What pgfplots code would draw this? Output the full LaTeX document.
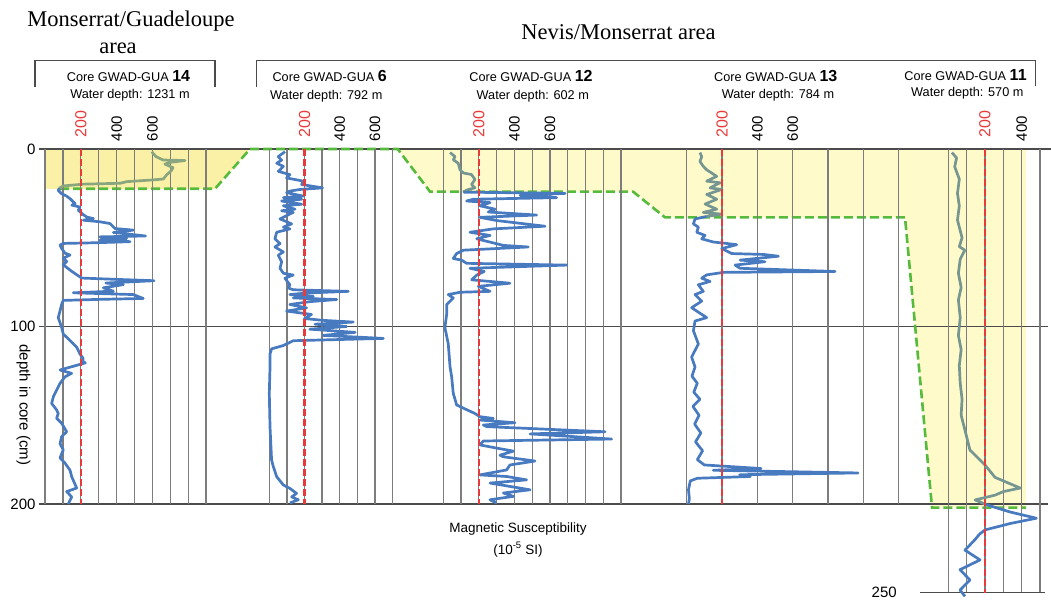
\documentclass[border=0pt]{standalone}
\usepackage{fontspec}
\setmainfont{Liberation Sans}
\newfontfamily\titlefont{Liberation Serif}
\usepackage{pgfplots}
\pgfplotsset{compat=1.18}
\definecolor{cblue}{RGB}{72,122,192}
\definecolor{cgray}{RGB}{118,150,146}
\definecolor{cgrayA}{RGB}{138,166,126}
\definecolor{yelA}{RGB}{250,241,166}
\definecolor{yelB}{RGB}{255,250,202}
\definecolor{cgreen}{RGB}{86,186,60}
\definecolor{cred}{RGB}{232,58,58}
\definecolor{cgrid}{RGB}{125,125,125}
\definecolor{cline}{RGB}{75,75,75}
\pgfplotsset{
  panel/.style={scale only axis, anchor=north west, height=355bp, ymin=0, ymax=200,
    y dir=reverse, axis line style={draw=none}, ytick=\empty, xticklabels={},
    major tick length=0pt, xmajorgrids, major grid style={cgrid, line width=1.3bp}, clip=false},
  bl/.style={cblue, line width=2.7bp, line join=round},
  gl/.style={cgray, line width=2.7bp, line join=round},
  rl/.style={cred, line width=2.3bp, dash pattern=on 7bp off 3bp},
}
\tikzset{
  toplab/.style={rotate=90, anchor=west, inner sep=0pt, font=\fontsize{15bp}{18bp}\selectfont},
  toplabR/.style={rotate=90, anchor=west, inner sep=0pt, text=cred, font=\fontsize{16bp}{19bp}\selectfont},
  corelab/.style={anchor=base, inner sep=0pt, font=\fontsize{12.7bp}{15bp}\selectfont},
}
\newcommand{\coreno}[1]{{\fontsize{16bp}{18bp}\selectfont\bfseries #1}}
\begin{document}
\begin{tikzpicture}
\useasboundingbox (0,0) rectangle (1051bp,-600bp);
% ---------- master axis (pixel x, depth y)
\begin{axis}[at={(39bp,-149bp)}, anchor=north west, scale only axis,
  width=1012bp, height=355bp, xmin=39, xmax=1051, ymin=0, ymax=200, y dir=reverse,
  axis line style={draw=none}, xtick=\empty, ytick={0,100,200}, yticklabels={0,100,200},
  major tick length=0pt, clip=false,
  yticklabel style={font=\fontsize{15bp}{18bp}\selectfont}]
\addplot[fill=yelA, draw=none] coordinates {(45,0) (250,0) (215,22.4) (45,22.4)} -- cycle;
\addplot[fill=yelB, draw=none] coordinates {(397.7,0) (1026,0) (1026,202) (932,202) (905,38.5) (665,38.5) (633,24) (430,24)} -- cycle;
\addplot[cline, line width=1.3bp] coordinates {(39,0) (1051,0)};
\addplot[cline, line width=1.3bp] coordinates {(39,100) (1048,100)};
\addplot[cline, line width=1.3bp] coordinates {(39,200) (1048,200)};
\addplot[cgreen, line width=2.6bp, dash pattern=on 9bp off 4bp] coordinates {(60,22.4) (215,22.4) (250,0) (397.7,0) (430,24) (633,24) (665,38.5) (905,38.5) (932,202) (1026,202)};
\end{axis}
% ---------- panel 1: GUA 14
\begin{axis}[panel, at={(45bp,-149bp)}, width=161.1bp, xmin=0, xmax=900, xtick={0,100,...,900}]
\addplot[cgrayA, line width=2.7bp, line join=round] coordinates {(596,1.5) (620,4.3) (660,6.2) (782,6.5) (700,7.5) (670,8.5) (715,10.5) (705,12.3) (680,14.5) (661,16.9) (605,17.4) (456,18.4) (420,19.3) (214,19.8) (102,20.8) (80,22)};
\addplot[bl] coordinates {(80,22) (74,23.3) (93,25.2) (120,26.5) (140,28) (168,30.8) (150,31.6) (195,32.7) (186,34.5) (214,37) (233,38.3) (270,39.2) (214,40.1) (307,41) (363,42) (391,44.8) (493,45.7) (382,47) (562,49) (307,49.5) (456,50.4) (307,51.3) (475,52.2) (289,52.8) (102,53.2) (84,54.1) (93,56) (112,58.7) (140,59.7) (102,61.5) (121,63.4) (102,65.2) (149,68.9) (177,70.8) (205,72.7) (307,73.1) (609,74.2) (340,75.5) (438,76.4) (326,78.2) (382,80.1) (158,81) (493,82) (549,84.2) (307,84.7) (102,85.3) (93,87.5) (84,91.2) (74,95) (93,100.5) (102,104.2) (140,107.9) (177,111.6) (195,115.4) (214,118.1) (205,119) (225,120.5) (84,124.5) (149,126.4) (112,128.3) (84,132) (47,139.5) (37,143.3) (65,147) (74,149) (65,151.7) (93,154.5) (121,159.3) (93,162) (84,166) (102,169.5) (84,174) (112,177) (140,181) (149,184.6) (177,191) (121,193) (149,196) (130,200)};
\addplot[rl] coordinates {(200,0) (200,200)};
\node[toplabR] at ([yshift=11.5bp]axis cs:200,0) {200};
\node[toplab] at ([yshift=7.5bp]axis cs:400,0) {400};
\node[toplab] at ([yshift=7.5bp]axis cs:600,0) {600};
\end{axis}
% ---------- panel 2: GUA 6
\begin{axis}[panel, at={(269.3bp,-149bp)}, width=123.2bp, xmin=0, xmax=700, xtick={0,100,...,700}]
\addplot[bl] coordinates {(89,1.5) (51,4.3) (70,6.3) (42,8) (80,9.8) (51,12.6) (117,14.4) (98,16.3) (146,17.2) (193,18.1) (184,20) (303,21.9) (174,22.8) (117,23.7) (98,24.6) (193,26.5) (80,27.4) (184,28.3) (70,29.3) (184,31.1) (80,32) (146,33.9) (70,34.8) (136,35.7) (61,39.4) (127,42.2) (80,44) (117,45) (42,46.9) (32,50.6) (61,53.3) (32,55.2) (80,58) (51,59.8) (70,63.5) (61,67.2) (80,70) (136,71) (89,72.8) (117,76.5) (108,78.3) (136,79.3) (449,80.2) (212,81.1) (117,82) (250,83) (136,83.9) (383,84.8) (230,86) (117,87.6) (212,89.5) (98,91.3) (240,93.2) (200,95.5) (300,96.5) (477,97.5) (260,98.7) (439,100) (230,101.5) (487,103.3) (306,105) (648,106.7) (136,108) (80,110.7) (13,112.6) (4,115.4) (4,122.8) (0,137.7) (4,156.4) (13,175.2) (23,179) (42,184.6) (80,189.3) (117,191.2) (155,194) (127,196) (165,197.6) (117,199.4)};
\addplot[rl] coordinates {(200,0) (200,200)};
\node[toplabR] at ([yshift=11.5bp]axis cs:200,0) {200};
\node[toplab] at ([yshift=7.5bp]axis cs:400,0) {400};
\node[toplab] at ([yshift=7.5bp]axis cs:600,0) {600};
\end{axis}
% ---------- panel 3: GUA 12
\begin{axis}[panel, at={(443.3bp,-149bp)}, width=177.7bp, xmin=0, xmax=1000, xtick={0,100,...,1000}]
\addplot[gl] coordinates {(38,2) (66,4.3) (56,6.1) (84,8) (94,11.7) (113,13.5) (159,14.4) (178,17.2) (159,20) (178,21.9) (141,22.8) (122,23.7) (113,24.3)};
\addplot[bl] coordinates {(113,24.3) (685,25) (432,26.1) (638,27.4) (169,28.3) (131,29.3) (263,30.2) (206,32) (291,33.9) (253,35.5) (525,37.2) (206,38.5) (300,40.3) (572,43.5) (281,45) (150,46.9) (263,48.7) (188,50.6) (338,54.3) (478,55.2) (113,57) (75,58.9) (56,61.7) (103,62.6) (131,64.4) (694,65.4) (150,67.2) (230,69) (188,71) (160,73.7) (375,75.6) (197,77.4) (263,80.2) (94,80.7) (28,82) (56,83.9) (19,87.6) (19,93.1) (9,100.6) (28,109.8) (38,122.8) (47,128.3) (56,137.7) (66,141) (75,144.2) (113,146) (178,149) (206,150.8) (281,151.8) (206,152.7) (403,154.2) (225,155.5) (244,156.4) (910,159.3) (488,160.5) (650,161.5) (947,163.4) (225,164.5) (206,166.7) (300,168.5) (394,170.2) (319,172.5) (338,173.4) (516,175.8) (375,178) (356,180.8) (206,183.6) (356,184.5) (469,186.4) (263,188.2) (488,192) (338,193.8) (394,195.7) (263,197.6) (300,199.5)};
\addplot[rl] coordinates {(200,0) (200,200)};
\node[toplabR] at ([yshift=11.5bp]axis cs:200,0) {200};
\node[toplab] at ([yshift=7.5bp]axis cs:400,0) {400};
\node[toplab] at ([yshift=7.5bp]axis cs:600,0) {600};
\end{axis}
% ---------- panel 4: GUA 13
\begin{axis}[panel, at={(686.7bp,-149bp)}, width=212bp, xmin=0, xmax=1200, xtick={0,200,...,1200}]
\addplot[gl] coordinates {(75,2) (85,4.3) (75,7) (94,9.8) (113,11.7) (170,15.4) (113,18.1) (189,19) (132,21.9) (198,22.8) (113,25.6) (170,28.3) (104,31) (170,33.9) (94,35.7) (198,36.7) (113,38)};
\addplot[bl] coordinates {(113,38) (47,39.4) (38,42.2) (66,44) (57,46.9) (104,48.7) (85,50.6) (151,52.4) (208,53) (283,53.9) (198,56.1) (255,58.9) (434,59.4) (519,60.4) (302,62.6) (443,63.5) (274,65.4) (302,67.2) (840,69) (208,69.5) (113,70.9) (85,72.8) (132,74.6) (66,76.5) (94,80.2) (47,82) (85,85.7) (28,89.4) (113,95) (47,96.9) (38,102.4) (66,109.8) (28,117.2) (47,122.8) (30,128) (60,132) (40,137) (75,141) (35,145) (70,150) (45,155) (80,160) (50,165) (90,170) (60,175) (100,178) (420,180) (150,181) (970,182.5) (300,183.5) (360,184.5) (60,185.5) (20,187) (10,192) (15,197) (10,200)};
\addplot[rl] coordinates {(200,0) (200,200)};
\node[toplabR] at ([yshift=11.5bp]axis cs:200,0) {200};
\node[toplab] at ([yshift=7.5bp]axis cs:400,0) {400};
\node[toplab] at ([yshift=7.5bp]axis cs:600,0) {600};
\end{axis}
% ---------- panel 5: GUA 11
\begin{axis}[panel, at={(948.3bp,-149bp)}, width=91.7bp, height=443.75bp, ymax=250, xmin=0, xmax=500, xtick={0,100,...,500}]
\addplot[cline, line width=1.3bp] coordinates {(-155,250) (527,250)};
\addplot[gl] coordinates {(20,2) (45,5) (35,10) (60,17) (50,25) (60,32) (50,40) (75,50) (60,55) (90,57) (65,62) (55,70) (70,78) (55,85) (65,95) (55,105) (70,113) (60,122) (65,132) (75,141) (70,150) (90,158) (118,169.6) (200,178) (255,185) (392,191) (300,193) (255,195) (146,197.7) (200,200)};
\addplot[bl] coordinates {(200,200) (227,201) (337,204.5) (480,208) (337,211) (200,214.6) (170,217) (146,220) (91,226) (173,231.5) (64,237) (118,242.8) (64,248.5) (91,252)};
\addplot[rl] coordinates {(200,0) (200,250)};
\node[toplabR] at ([yshift=11.5bp]axis cs:200,0) {200};
\node[toplab] at ([yshift=7.5bp]axis cs:400,0) {400};
\node[anchor=east, inner sep=0pt, font=\fontsize{15bp}{18bp}\selectfont] at (axis cs:-280,250) {250};
\end{axis}
% ---------- headers and labels
\draw[cline, line width=1.3bp] (35bp,-87bp) -- (35bp,-60.5bp) -- (215bp,-60.5bp) -- (215bp,-87bp);
\draw[cline, line width=1.3bp] (256.7bp,-87bp) -- (256.7bp,-60.5bp) -- (1035.7bp,-60.5bp) -- (1035.7bp,-86bp);
\node[anchor=base, inner sep=0pt, font=\titlefont\fontsize{22.5bp}{26bp}\selectfont] at (131bp,-26.7bp) {Monserrat/Guadeloupe};
\node[anchor=base, inner sep=0pt, font=\titlefont\fontsize{22.5bp}{26bp}\selectfont] at (118bp,-53bp) {area};
\node[anchor=base, inner sep=0pt, font=\titlefont\fontsize{22.5bp}{26bp}\selectfont] at (618.5bp,-39.3bp) {Nevis/Monserrat area};
\node[corelab] at (128.5bp,-81.7bp) {Core GWAD-GUA \coreno{14}};
\node[corelab] at (130bp,-98.7bp) {Water depth: 1231 m};
\node[corelab] at (329.7bp,-81bp) {Core GWAD-GUA \coreno{6}};
\node[corelab] at (326.3bp,-99bp) {Water depth: 792 m};
\node[corelab] at (531bp,-81.7bp) {Core GWAD-GUA \coreno{12}};
\node[corelab] at (532.8bp,-99bp) {Water depth: 602 m};
\node[corelab] at (775.8bp,-81bp) {Core GWAD-GUA \coreno{13}};
\node[corelab] at (778bp,-98.7bp) {Water depth: 784 m};
\node[corelab] at (965.5bp,-80bp) {Core GWAD-GUA \coreno{11}};
\node[corelab] at (967.3bp,-96bp) {Water depth: 570 m};
\node[rotate=-90, inner sep=0pt, font=\fontsize{15bp}{18bp}\selectfont] at (23.5bp,-405bp) {depth in core (cm)};
\node[anchor=base, inner sep=0pt, font=\fontsize{13.5bp}{16bp}\selectfont] at (518bp,-532bp) {Magnetic Susceptibility};
\node[anchor=base, inner sep=0pt, font=\fontsize{13.5bp}{16bp}\selectfont] at (518bp,-554bp) {(10\textsuperscript{-5} SI)};
\end{tikzpicture}
\end{document}
